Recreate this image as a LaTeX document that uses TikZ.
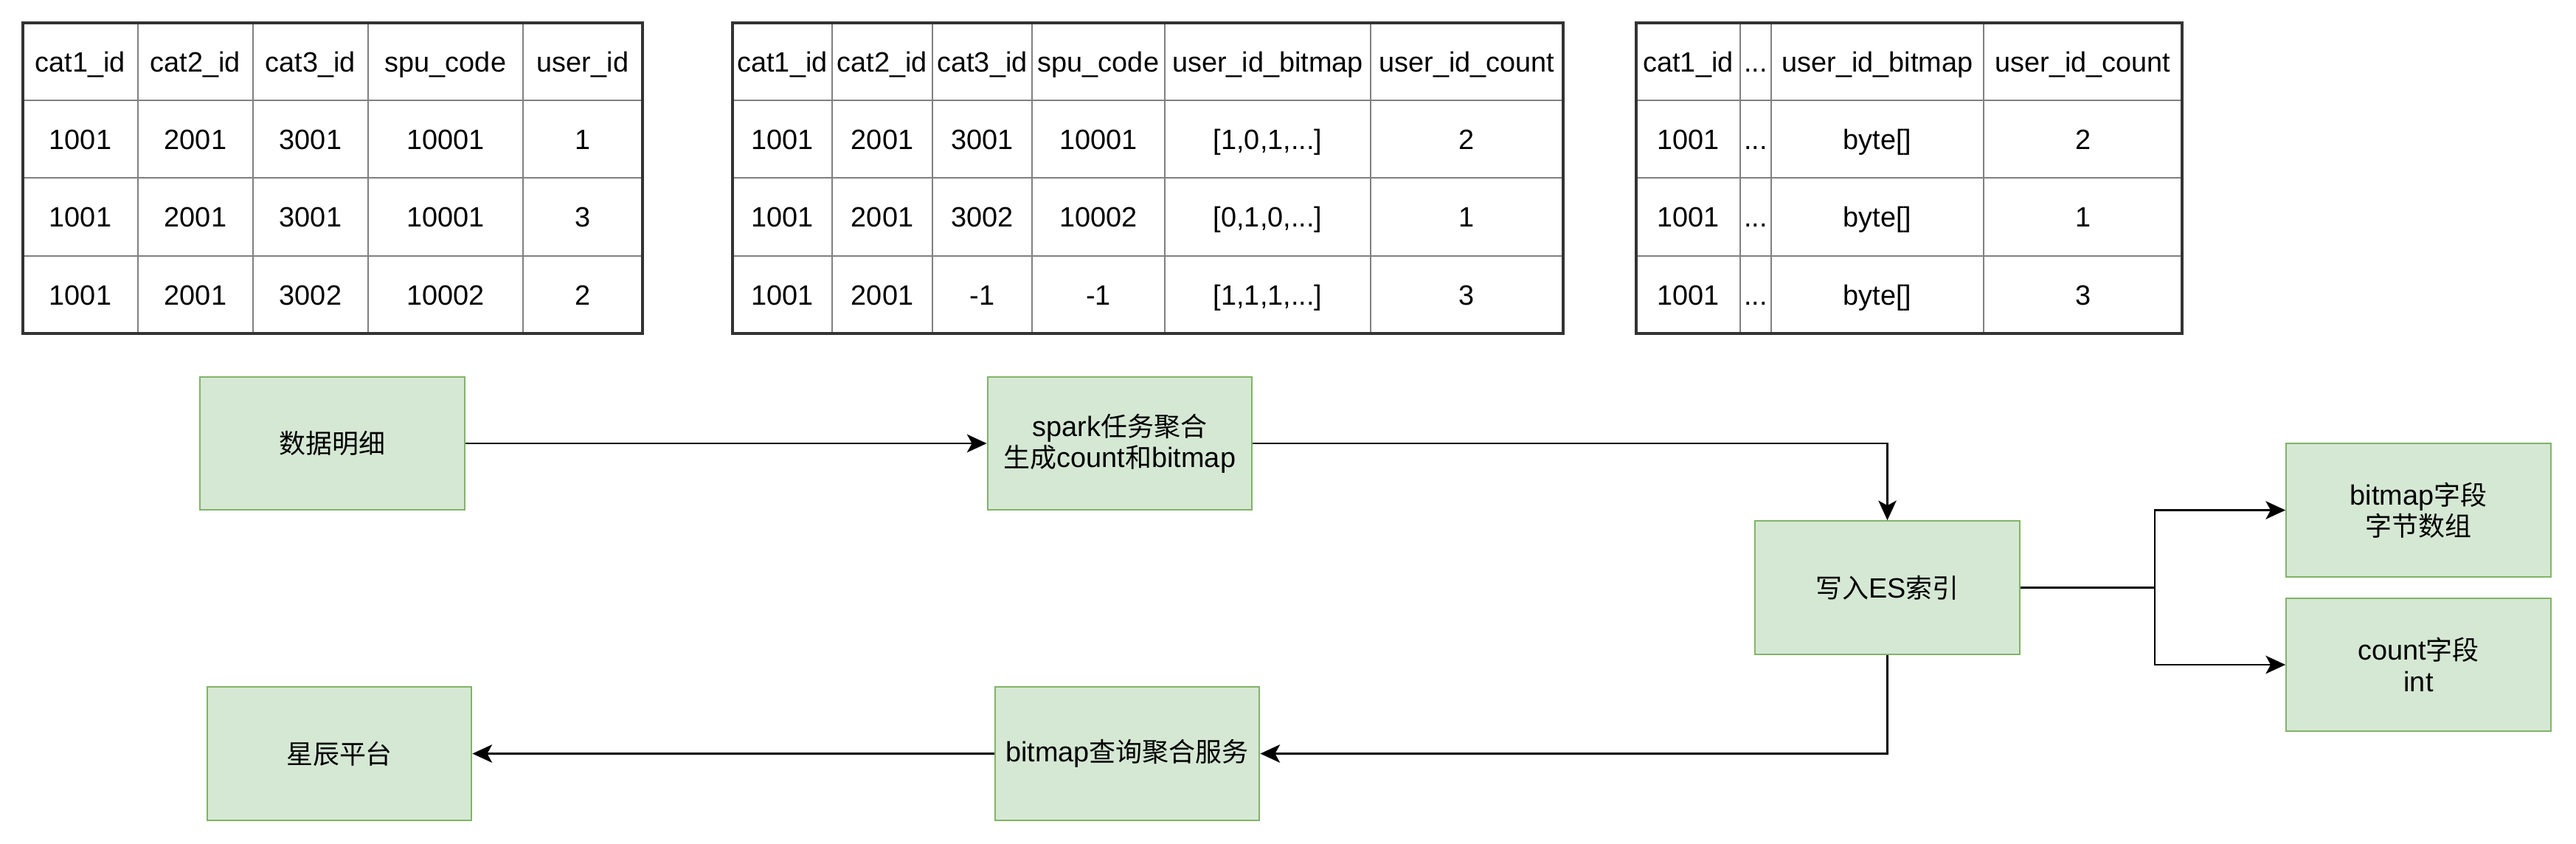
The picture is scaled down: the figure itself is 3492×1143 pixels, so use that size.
\documentclass[tikz,border=0pt]{standalone}
\usepackage{fontspec}
\setmainfont{Liberation Sans}
\newfontfamily\cjk[Scale=0.95]{Noto Sans CJK SC}
\newcommand{\zhtext}[1]{{\cjk #1}}
\newcommand{\skipcols}{...}
\usetikzlibrary{arrows.meta}
\definecolor{boxfill}{HTML}{D5E8D4}
\definecolor{boxline}{HTML}{82B366}
\definecolor{gridline}{HTML}{808080}
\definecolor{frameline}{HTML}{333333}

\begin{document}
\begin{tikzpicture}[x=0.449pt, y=-0.449pt,
  font=\fontsize{17}{19}\selectfont,
  cell/.style={inner sep=0pt, text height=12.2pt, text depth=0pt},
  inner/.style={gridline, line width=0.9pt},
  outer/.style={frameline, line width=1.4pt},
  box/.style={draw=boxline, fill=boxfill, line width=1pt, minimum width=161pt, minimum height=81pt, align=center},
  arr/.style={-{Stealth[length=12pt, width=11pt, inset=3pt]}, line width=1pt}]
\useasboundingbox (0,0) rectangle (3492,1143);

% table 1
\foreach \x in {187,343,499,709} \draw[inner] (\x,31) -- (\x,452);
\foreach \y in {136,241,347} \draw[inner] (31,\y) -- (871,\y);
\draw[outer] (31,31) rectangle (871,452);
\foreach \y/\a/\b/\c/\d/\e [count=\r] in {83.5/cat1\_id/cat2\_id/cat3\_id/spu\_code/user\_id,
    188.5/1001/2001/3001/10001/1, 294/1001/2001/3001/10001/3, 399.5/1001/2001/3002/10002/2} {
  \node[cell] (ta-\r-1) at (109,\y) {\a};
  \node[cell] (ta-\r-2) at (265,\y) {\b};
  \node[cell] (ta-\r-3) at (421,\y) {\c};
  \node[cell] (ta-\r-4) at (604,\y) {\d};
  \node[cell] (ta-\r-5) at (790,\y) {\e};
}

% table 2
\foreach \x in {1128,1264,1399,1579,1858} \draw[inner] (\x,31) -- (\x,452);
\foreach \y in {136,241,347} \draw[inner] (993,\y) -- (2119,\y);
\draw[outer] (993,31) rectangle (2119,452);
\foreach \y/\a/\b/\c/\d/\e/\f [count=\r] in {83.5/cat1\_id/cat2\_id/cat3\_id/spu\_code/user\_id\_bitmap/user\_id\_count,
    188.5/1001/2001/3001/10001/{[1,0,1,\skipcols]}/2, 294/1001/2001/3002/10002/{[0,1,0,\skipcols]}/1,
    399.5/1001/2001/-1/-1/{[1,1,1,\skipcols]}/3} {
  \node[cell] (tb-\r-1) at (1060.5,\y) {\a};
  \node[cell] (tb-\r-2) at (1196,\y) {\b};
  \node[cell] (tb-\r-3) at (1331.5,\y) {\c};
  \node[cell] (tb-\r-4) at (1489,\y) {\d};
  \node[cell] (tb-\r-5) at (1718.5,\y) {\e};
  \node[cell] (tb-\r-6) at (1988.5,\y) {\f};
}

% table 3
\foreach \x in {2359,2401,2689} \draw[inner] (\x,31) -- (\x,452);
\foreach \y in {136,241,347} \draw[inner] (2218,\y) -- (2958,\y);
\draw[outer] (2218,31) rectangle (2958,452);
\foreach \y/\a/\b/\c/\d [count=\r] in {83.5/cat1\_id/\skipcols/user\_id\_bitmap/user\_id\_count,
    188.5/1001/\skipcols/{byte[]}/2, 294/1001/\skipcols/{byte[]}/1, 399.5/1001/\skipcols/{byte[]}/3} {
  \node[cell] (tc-\r-1) at (2288.5,\y) {\a};
  \node[cell] (tc-\r-2) at (2380,\y) {\b};
  \node[cell] (tc-\r-3) at (2545,\y) {\c};
  \node[cell] (tc-\r-4) at (2823.5,\y) {\d};
}

% flow
\node[box] (detail) at (450.5,601) {\zhtext{数据明细}};
\node[box] (spark) at (1518,601) {spark\zhtext{任务聚合}\\\zhtext{生成}count\zhtext{和}bitmap};
\node[box] (es) at (2558.5,796.5) {\zhtext{写入}ES\zhtext{索引}};
\node[box] (bmfield) at (3278.5,691.5) {bitmap\zhtext{字段}\\\zhtext{字节数组}};
\node[box] (cntfield) at (3278.5,901) {count\zhtext{字段}\\int};
\node[box] (query) at (1528,1021.5) {bitmap\zhtext{查询聚合服务}};
\node[box] (star) at (460,1021.5) {\zhtext{星辰平台}};
\coordinate (split) at (2921,796.5);

\draw[arr] (detail) -- (spark);
\draw[arr] (spark.east) -| (es.north);
\draw[line width=1pt] (es.east) -- (split);
\draw[arr] (split) |- (bmfield.west);
\draw[arr] (split) |- (cntfield.west);
\draw[arr] (es.south) |- (query.east);
\draw[arr] (query) -- (star);
\end{tikzpicture}
\end{document}
